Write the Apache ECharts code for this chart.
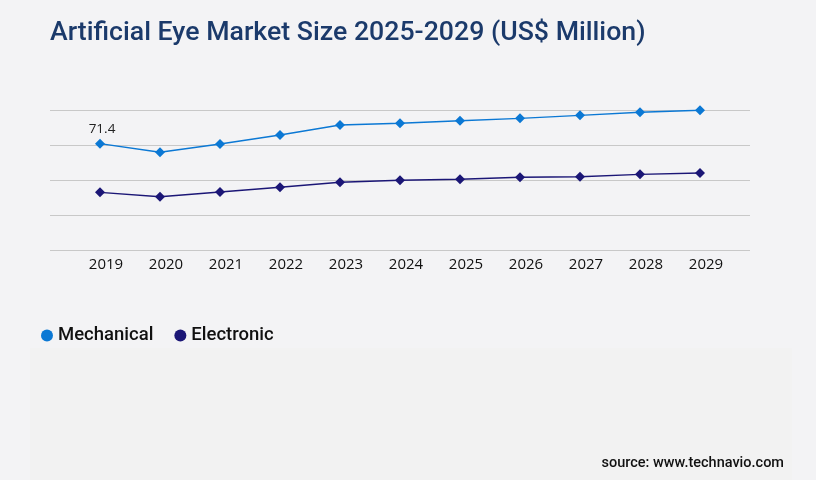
<!DOCTYPE html>
<html>
<head>
<meta charset="utf-8">
<script src="https://cdn.jsdelivr.net/npm/echarts@6/dist/echarts.min.js"></script>
<style>
  html, body { margin: 0; padding: 0; background: #f3f3f5; }
  #chart-container { width: 816px; height: 480px; }
</style>
</head>
<body>
<div id="chart-container"></div>
<script>
const years = ['2019', '2020', '2021', '2022', '2023', '2024', '2025', '2026', '2027', '2028', '2029'];
const mechanical = [71.4, 65.6, 71.2, 77.2, 83.9, 85.1, 86.8, 88.4, 90.4, 92.5, 93.8];
const electronic = [38.7, 35.8, 38.9, 42.1, 45.5, 46.8, 47.5, 48.8, 49.2, 50.8, 51.7];

function buildSeries(name, color, data, showFirstLabel) {
  return {
    name,
    type: 'line',
    xAxisIndex: 1,
    yAxisIndex: 1,
    symbol: 'diamond',
    symbolSize: 10,
    itemStyle: { color },
    lineStyle: { color, width: 1.4 },
    label: {
      show: showFirstLabel,
      position: 'top',
      distance: 3,
      offset: [2, 0],
      color: '#222',
      fontSize: 13.5,
      fontFamily: 'Open Sans',
      formatter: (p) => (p.dataIndex === 0 ? p.value : '')
    },
    data
  };
}

const option = {
  backgroundColor: '#f3f3f5',
  animation: false,
  title: {
    text: 'Artificial Eye Market Size 2025-2029 (US$ Million)',
    left: 45,
    top: 15,
    textStyle: {
      color: '#1b3a6b',
      fontSize: 26.7,
      fontWeight: 500,
      fontFamily: 'Roboto'
    }
  },
  graphic: [
    {
      type: 'rect',
      z: -1,
      shape: { x: 30, y: 348, width: 762, height: 132 },
      style: { fill: '#f2f2f2' }
    },
    {
      type: 'text',
      right: 32,
      top: 456,
      style: {
        text: 'source: www.technavio.com',
        fill: '#111',
        font: '500 14.5px Roboto'
      }
    }
  ],
  legend: {
    left: 36,
    top: 321,
    icon: 'circle',
    itemWidth: 12,
    itemHeight: 12,
    itemGap: 21,
    textStyle: { fontSize: 18.5, fontWeight: 500, color: '#111', fontFamily: 'Roboto' },
    data: ['Mechanical', 'Electronic']
  },
  grid: [
    { left: 50, right: 66, top: 110, height: 140 },
    { left: 70, right: 86, top: 110, height: 140 }
  ],
  xAxis: [
    { gridIndex: 0, type: 'value', show: false },
    {
      gridIndex: 1,
      type: 'category',
      data: years,
      boundaryGap: true,
      axisLine: { show: false },
      axisTick: { show: false },
      axisLabel: {
        color: '#111',
        fontSize: 15,
        fontFamily: 'Open Sans',
        margin: 7,
        padding: [0, 0, 0, 12]
      }
    }
  ],
  yAxis: [
    {
      gridIndex: 0,
      type: 'value',
      min: 0,
      max: 94,
      interval: 23.5,
      axisLabel: { show: false },
      axisLine: { show: false },
      axisTick: { show: false },
      splitLine: { lineStyle: { color: '#c8c8c8', width: 1 } }
    },
    {
      gridIndex: 1,
      type: 'value',
      min: 0,
      max: 94,
      show: false,
      splitLine: { show: false }
    }
  ],
  series: [
    buildSeries('Mechanical', '#0b78d4', mechanical, true),
    buildSeries('Electronic', '#1b1676', electronic, false)
  ]
};

const myChart = echarts.init(document.getElementById('chart-container'));
myChart.setOption(option);
window.addEventListener('resize', myChart.resize);
</script>
</body>
</html>
